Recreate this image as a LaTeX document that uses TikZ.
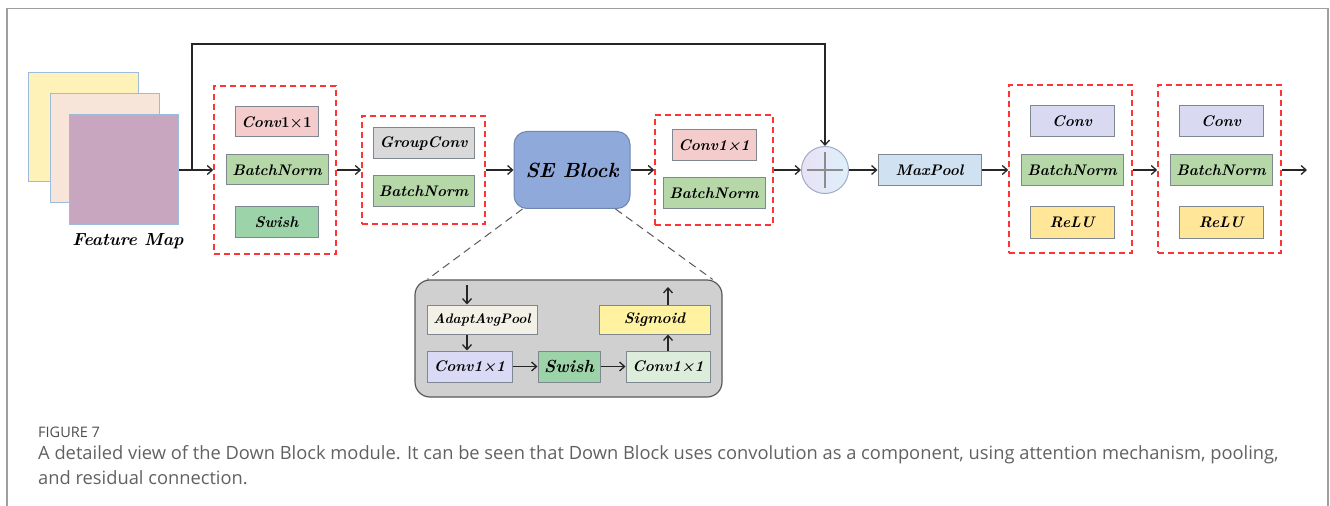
\documentclass[tikz,border=0pt]{standalone}
\usepackage{fontspec}
\newfontfamily\capfont{Open Sans}
\usetikzlibrary{arrows.meta}
\definecolor{pinkc}{HTML}{F4CCCC}
\definecolor{bngreen}{HTML}{B6D7A8}
\definecolor{swgreen}{HTML}{9DD3A9}
\definecolor{gcgrey}{HTML}{D9D9D9}
\definecolor{seblue}{HTML}{8FA9DA}
\definecolor{seedge}{HTML}{6F86B2}
\definecolor{mpblue}{HTML}{D0E1F2}
\definecolor{convlav}{HTML}{D9D9F2}
\definecolor{reluyel}{HTML}{FFE699}
\definecolor{aapcream}{HTML}{F3F1E7}
\definecolor{inlav}{HTML}{DADAF6}
\definecolor{inmint}{HTML}{DDEDDB}
\definecolor{sigyel}{HTML}{FFF3A2}
\definecolor{detgrey}{HTML}{D0D0D0}
\definecolor{boxedge}{HTML}{7F8790}
\definecolor{grpred}{HTML}{FF3333}
\definecolor{fmedge}{HTML}{9DBBDB}
\definecolor{fmyel}{HTML}{FFF2B8}
\definecolor{fmpeach}{HTML}{F8E5D9}
\definecolor{fmmauve}{HTML}{C8A6BF}
\definecolor{sumedge}{HTML}{A3AAC4}
\definecolor{sumleft}{HTML}{E9E1F6}
\definecolor{sumright}{HTML}{DDF0FA}
\definecolor{captext}{HTML}{616161}
\definecolor{figtext}{HTML}{4D4D4D}
\tikzset{
  blk/.style={draw=boxedge, line width=1bp, fill=#1, minimum height=30bp,
    inner sep=0pt, font=\fontsize{15.3bp}{17bp}\selectfont\bfseries\itshape},
  grp/.style={draw=grpred, line width=1.6bp, dash pattern=on 6bp off 4bp, inner sep=0pt},
  fmap/.style={draw=fmedge, line width=1bp, fill=#1, minimum width=109bp, minimum height=109bp, inner sep=0pt},
  arr/.style={draw=black!85, line width=1.3bp, -{Straight Barb[length=5bp,width=9bp,line width=1.3bp]}},
  zoomline/.style={draw=black!65, line width=1bp, dash pattern=on 8bp off 5bp},
  captxt/.style={anchor=west, inner sep=0pt, text=captext, font=\capfont\fontsize{18.3bp}{22bp}\selectfont}
}
\begin{document}
\begin{tikzpicture}[x=1bp,y=-1bp]
\useasboundingbox (0,0) rectangle (1330,506);
% outer frame, open at the bottom
\draw[gray!75, line width=1.6bp] (7,506) -- (7,8.5) -- (1328,8.5) -- (1328,506);

% feature map stack
\node[fmap=fmyel] (fm1) at (83.5,127.5) {};
\node[fmap=fmpeach] (fm2) at (104.5,148.5) {};
\node[fmap=fmmauve] (fm3) at (123.5,169.5) {};
\node[font=\fontsize{17.5bp}{20bp}\selectfont\bfseries\itshape] (fmlab) at (128,241) {Feature Map};

% first group
\node[grp, minimum width=122bp, minimum height=168bp] (g1) at (275,170) {};
\node[blk=pinkc, minimum width=83bp] (g1a) at (276.5,122) {Conv{\upshape 1×1}};
\node[blk=bngreen, minimum width=102bp] (g1b) at (277,170) {BatchNorm};
\node[blk=swgreen, minimum width=83bp] (g1c) at (276.5,222) {Swish};

% second group
\node[grp, minimum width=123bp, minimum height=108bp] (g2) at (423.5,170) {};
\node[blk=gcgrey, minimum width=101bp, minimum height=31bp] (g2a) at (423.5,143.5) {GroupConv};
\node[blk=bngreen, minimum width=101bp, minimum height=31bp] (g2b) at (423.5,191.5) {BatchNorm};

% squeeze-and-excitation block
\node[draw=seedge, line width=1bp, fill=seblue, rounded corners=13bp, minimum width=116bp,
  minimum height=77bp, inner sep=0pt, font=\fontsize{20.5bp}{23bp}\selectfont\bfseries\itshape] (se) at (572,170) {SE Block};

% third group
\node[grp, minimum width=118bp, minimum height=110bp] (g3) at (714,170) {};
\node[blk=pinkc, minimum width=84bp, minimum height=31bp] (g3a) at (714,145.5) {Conv1×1};
\node[blk=bngreen, minimum width=102bp, minimum height=31bp] (g3b) at (714,193.5) {BatchNorm};

% residual sum
\node[circle, draw=sumedge, line width=1bp, left color=sumleft, right color=sumright,
  minimum size=47bp, inner sep=0pt] (sum) at (825,170) {};
\draw[gray!90, line width=2bp] ([xshift=-18bp]sum.center) -- ([xshift=18bp]sum.center);
\draw[gray!90, line width=2bp] ([yshift=-18bp]sum.center) -- ([yshift=18bp]sum.center);

\node[blk=mpblue, minimum width=103bp, minimum height=31bp] (mp) at (929.5,170) {MaxPool};

% two conv groups
\node[grp, minimum width=123bp, minimum height=168bp] (g4) at (1070.5,169) {};
\node[blk=convlav, minimum width=84bp, minimum height=31bp] (g4a) at (1072,121.5) {Conv};
\node[blk=bngreen, minimum width=102bp, minimum height=31bp] (g4b) at (1072,170) {BatchNorm};
\node[blk=reluyel, minimum width=84bp, minimum height=31bp] (g4c) at (1072,222.5) {ReLU};

\node[grp, minimum width=123bp, minimum height=168bp] (g5) at (1219.5,169) {};
\node[blk=convlav, minimum width=84bp, minimum height=31bp] (g5a) at (1221,121.5) {Conv};
\node[blk=bngreen, minimum width=102bp, minimum height=31bp] (g5b) at (1221,170) {BatchNorm};
\node[blk=reluyel, minimum width=84bp, minimum height=31bp] (g5c) at (1221,222.5) {ReLU};
\coordinate (out) at (1307,170);

% main path
\draw[arr] (fm3.east |- g1.west) -- (g1.west);
\draw[arr] (g1.east) -- (g2.west);
\draw[arr] (g2.east) -- (se.west);
\draw[arr] (se.east) -- (g3.west);
\draw[arr] (g3.east) -- (sum.west);
\draw[arr] (sum.east) -- (mp.west);
\draw[arr] (mp.east) -- (g4.west |- mp.east);
\draw[arr] (g4.east |- g4b) -- (g5.west |- g5b);
\draw[arr] (g5.east |- g5b) -- (out);

% skip connection
\coordinate (br) at (192,170);
\coordinate (tp) at (192,44);
\draw[arr] (br) -- (tp) -| (sum.north);

% expanded SE block
\node[draw=black!65, line width=1.2bp, fill=detgrey, rounded corners=15bp, minimum width=307bp,
  minimum height=117bp, inner sep=0pt] (det) at (568.5,338.5) {};
\draw[zoomline] ([xshift=9bp]se.south west) -- ([xshift=13bp]det.north west);
\draw[zoomline] ([xshift=-15bp]se.south east) -- ([xshift=-10bp]det.north east);

\node[blk=aapcream, minimum width=110bp, minimum height=29bp, font=\fontsize{13.8bp}{16bp}\selectfont\bfseries\itshape] (aap) at (482,319.5) {AdaptAvgPool};
\node[blk=inlav, minimum width=85bp, minimum height=31bp] (c1) at (469.5,366.5) {Conv1×1};
\node[blk=swgreen, minimum width=62bp, minimum height=31bp, font=\fontsize{17.5bp}{20bp}\selectfont\bfseries\itshape] (sw) at (569,366.5) {Swish};
\node[blk=inmint, minimum width=84bp, minimum height=31bp] (c2) at (668,366.5) {Conv1×1};
\node[blk=sigyel, minimum width=111bp, minimum height=29bp] (sig) at (654.5,319.5) {Sigmoid};
\coordinate (sein) at (467,285);
\coordinate (seout) at (668,287);

\draw[arr] (sein) -- (aap.north -| sein);
\draw[arr] (aap.south -| sein) -- (c1.north -| sein);
\draw[arr] (c1.east) -- (sw.west);
\draw[arr] (sw.east) -- (c2.west);
\draw[arr] (c2.north) -- (sig.south -| c2.north);
\draw[arr] (sig.north -| c2.north) -- (seout);

% caption
\node[captxt, text=figtext, font=\capfont\fontsize{14.5bp}{16bp}\selectfont] (capt) at (38,432) {FIGURE 7};
\node[captxt] (cap1) at (38,455) {A detailed view of the Down Block module. It can be seen that Down Block uses convolution as a component, using attention mechanism, pooling,};
\node[captxt] (cap2) at (38,478) {and residual connection.};
\end{tikzpicture}
\end{document}
